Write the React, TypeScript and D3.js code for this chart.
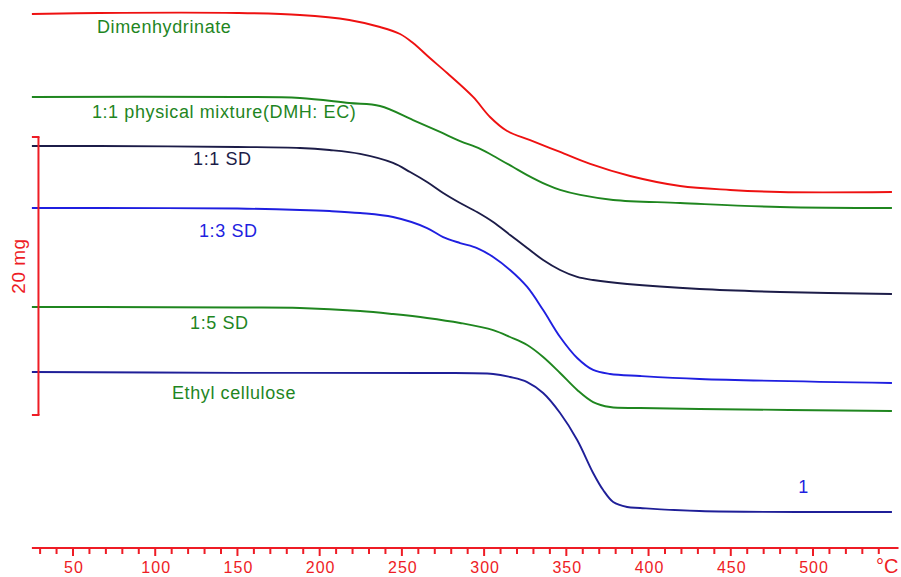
import React from "react";
import * as d3 from "d3";

// Temperatures in °C, masses in mg (stacked traces)
const dimenhydrinate: [number, number][] = [
  [25, 38.42], [66, 38.49], [150, 38.49], [188, 38.35], [218, 37.99], [236.7, 37.48],
  [248.9, 36.98], [256.8, 36.33], [267, 35.25], [277.5, 34.17], [293.3, 32.45], [303.6, 31.01],
  [314, 30.0], [328, 29.35], [346.2, 28.49], [364.5, 27.63], [388.8, 26.76], [419.2, 26.04],
  [449.6, 25.76], [480, 25.61], [548, 25.61],
];
const physicalMixture: [number, number][] = [
  [25, 32.45], [150, 32.45], [188, 32.37], [218, 32.01], [236.7, 31.8], [256.8, 30.79],
  [273.2, 29.93], [285.4, 29.28], [297.6, 28.71], [307.9, 28.06], [317.6, 27.41], [326.2, 26.83],
  [338.3, 26.12], [346.2, 25.76], [358.4, 25.4], [378.5, 25.04], [419.2, 24.82], [480, 24.53],
  [548, 24.46],
];
const sd11: [number, number][] = [
  [25, 28.92], [66, 28.92], [150, 28.85], [188, 28.78], [206, 28.63], [224.6, 28.35],
  [244.6, 27.7], [255, 27.05], [265.3, 26.33], [275.1, 25.54], [285.4, 24.82], [295.7, 24.17],
  [305.5, 23.45], [315.8, 22.52], [326.2, 21.58], [335.9, 20.72], [346.2, 20.0], [356.6, 19.5],
  [366.3, 19.28], [387, 18.99], [431, 18.63], [480, 18.42], [548, 18.27],
];
const sd13: [number, number][] = [
  [25, 24.46], [66, 24.46], [150, 24.42], [188, 24.32], [206, 24.24], [224.6, 24.1],
  [244.6, 23.81], [265.3, 23.02], [275.1, 22.37], [285.4, 21.94], [295.7, 21.58], [305.5, 20.94],
  [315.8, 20.0], [326.2, 18.78], [335.9, 17.12], [346.2, 15.18], [356.6, 13.67], [366.3, 12.81],
  [376.6, 12.52], [394.9, 12.37], [431, 12.16], [548, 11.87],
];
const sd15: [number, number][] = [
  [25, 17.34], [66, 17.34], [150, 17.3], [188, 17.27], [224.6, 17.05], [244.6, 16.83],
  [265.3, 16.55], [285.4, 16.19], [305.5, 15.68], [315.8, 15.18], [326.2, 14.6], [335.9, 13.74],
  [346.2, 12.59], [356.6, 11.37], [366.3, 10.5], [376.6, 10.14], [394.9, 10.07], [431, 10.0],
  [548, 9.86],
];
const ethylCellulose: [number, number][] = [
  [25, 12.66], [150, 12.6], [265.3, 12.59], [305.5, 12.52], [315.8, 12.3], [326.2, 11.94],
  [335.9, 11.15], [346.2, 9.71], [356.6, 7.77], [366.3, 5.4], [372.4, 4.17], [378.5, 3.31],
  [387, 2.95], [394.9, 2.88], [431, 2.66], [548, 2.59],
];

const seriesNames = ["Dimenhydrinate", "1:1 physical mixture(DMH: EC)", "1:1 SD", "1:3 SD", "1:5 SD", "Ethyl cellulose"];
const seriesData = [dimenhydrinate, physicalMixture, sd11, sd13, sd15, ethylCellulose];
const lineColors = ["#ee1111", "#1f861f", "#1c1c48", "#1f1fe0", "#1f861f", "#1f1f98"];
const labelColors = ["#1f861f", "#1f861f", "#1c1c48", "#1f1fe0", "#1f861f", "#1f861f"];
// label anchor: [temperature at start of text, mass at baseline]
const labelAnchors: [number, number][] = [
  [64.6, 37.05], [61.5, 30.9], [123, 27.55], [126.6, 22.37], [121.2, 15.75], [110.2, 10.7],
];

const majorTicks = [50, 100, 150, 200, 250, 300, 350, 400, 450, 500];
const minorTicks = d3.range(30, 541, 10);
const scaleBarBottomMg = 9.57;
const scaleBarSizeMg = 20;
const extraLabel = { text: "1", temp: 491, mass: 3.94 };

const W = 901;
const H = 577;
const RED = "#ee1c25";
const FONT = "'Liberation Sans', Arial, Helvetica, sans-serif";

export default function App() {
  const x = d3.scaleLinear().domain([50, 500]).range([73, 813]);
  const y = d3.scaleLinear().domain([0, 20]).range([548, 270]);
  const line = d3
    .line<[number, number]>()
    .x((d) => x(d[0]))
    .y((d) => y(d[1]))
    .curve(d3.curveCatmullRom.alpha(0.5));

  const axisY = y(0);
  const sbTop = y(scaleBarBottomMg + scaleBarSizeMg);
  const sbBot = y(scaleBarBottomMg);
  const sbX = x(29);

  return (
    <svg
      width={W}
      height={H}
      style={{ position: "absolute", left: 0, top: 0, background: "#fff" }}
      fontFamily={FONT}
    >
      <rect x={0} y={0} width={W} height={H} fill="#fff" />
      {seriesData.map((d, i) => (
        <path key={i} d={line(d) || ""} fill="none" stroke={lineColors[i]} strokeWidth={1.9} />
      ))}
      {seriesNames.map((n, i) => (
        <text
          key={n}
          x={x(labelAnchors[i][0])}
          y={y(labelAnchors[i][1])}
          fill={labelColors[i]}
          fontSize={18}
          letterSpacing={0.6}
        >
          {n}
        </text>
      ))}
      <text x={x(extraLabel.temp)} y={y(extraLabel.mass)} fill="#1f1fe0" fontSize={18}>
        {extraLabel.text}
      </text>

      {/* scale bar */}
      <g stroke={RED} strokeWidth={2} fill="none">
        <line x1={sbX} x2={sbX} y1={sbTop} y2={sbBot} />
        <line x1={x(25)} x2={sbX + 1} y1={sbTop} y2={sbTop} />
        <line x1={x(25)} x2={sbX + 1} y1={sbBot} y2={sbBot} />
      </g>
      <text
        transform={`translate(25, ${(sbTop + sbBot) / 2 - 10}) rotate(-90)`}
        textAnchor="middle"
        fill={RED}
        fontSize={19}
        letterSpacing={0.5}
      >
        20 mg
      </text>

      {/* x axis */}
      <g stroke={RED} strokeWidth={2}>
        <line x1={x(25)} x2={x(552)} y1={axisY} y2={axisY} />
        {minorTicks.map((t) => (
          <line key={t} x1={x(t)} x2={x(t)} y1={axisY} y2={axisY + (t % 50 === 0 ? 8 : 6)} />
        ))}
      </g>
      {majorTicks.map((t) => (
        <text
          key={t}
          x={x(t) + 1}
          y={573}
          textAnchor="middle"
          fill={RED}
          fontSize={16}
          letterSpacing={1}
        >
          {t}
        </text>
      ))}
      <text x={876} y={573} fill={RED} fontSize={20}>
        °C
      </text>
    </svg>
  );
}
